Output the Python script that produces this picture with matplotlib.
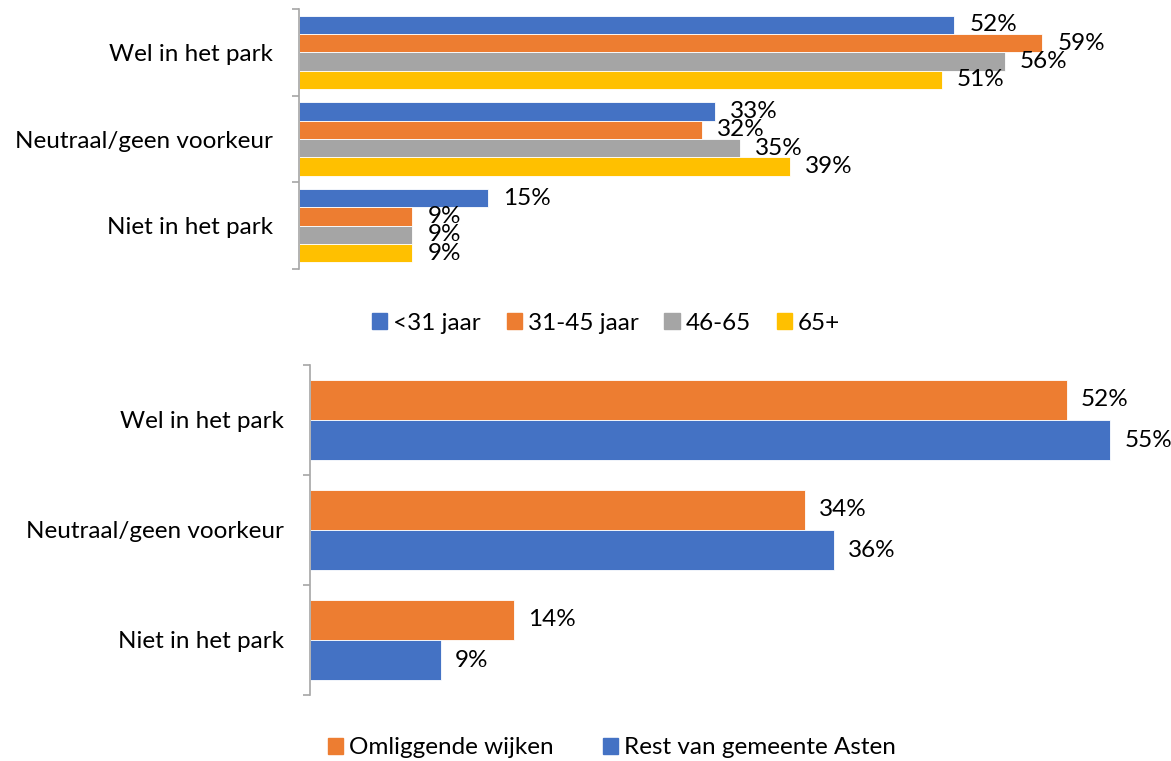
import numpy as np
import matplotlib
matplotlib.use('Agg')
import matplotlib.pyplot as plt
from matplotlib.patches import Patch

plt.rcParams['font.family'] = ['Lato', 'DejaVu Sans']

# categorieen (van boven naar beneden)
categories = ['Wel in het park', 'Neutraal/geen voorkeur', 'Niet in het park']

# bovenste grafiek: leeftijdsgroepen
age_groups = ['<31 jaar', '31-45 jaar', '46-65', '65+']
age_values = [
    [52, 33, 15],   # <31 jaar
    [59, 32, 9],    # 31-45 jaar
    [56, 35, 9],    # 46-65
    [51, 39, 9],    # 65+
]
age_colors = ['#4472C4', '#ED7D31', '#A5A5A5', '#FFC000']

# onderste grafiek: woonlocatie
area_groups = ['Omliggende wijken', 'Rest van gemeente Asten']
area_values = [
    [52, 34, 14],   # Omliggende wijken
    [55, 36, 9],    # Rest van gemeente Asten
]
area_colors = ['#ED7D31', '#4472C4']

FS = 17.5
W, H = 1171, 761
fig = plt.figure(figsize=(W / 100, H / 100), dpi=100)


def px_axes(x0, y0, x1, y1):
    # maak assen op pixelposities (y van boven)
    return fig.add_axes([x0 / W, 1 - y1 / H, (x1 - x0) / W, (y1 - y0) / H])


def style_axes(ax, labels):
    for s in ['top', 'right', 'bottom']:
        ax.spines[s].set_visible(False)
    ax.spines['left'].set_color('#A6A6A6')
    ax.spines['left'].set_linewidth(1.2)
    ax.set_xticks([])
    ax.set_yticks(range(len(labels)))
    ax.set_yticklabels(labels, fontsize=FS, color='#000000')
    ax.tick_params(axis='y', which='major', length=0, pad=19)
    ax.set_yticks([-0.5, 0.5, 1.5, 2.5], minor=True)
    ax.tick_params(axis='y', which='minor', length=5, color='#A6A6A6', width=1.2)
    ax.set_ylim(2.5, -0.5)


def grouped_bars(ax, values, colors, height, pad_px, px_per_unit):
    n = len(values)
    y = np.arange(len(categories))
    for i, (vals, col) in enumerate(zip(values, colors)):
        pos = y + (i - (n - 1) / 2) * height
        ax.barh(pos, vals, height=height, color=col, edgecolor='white', linewidth=0.6)
        for p, v in zip(pos, vals):
            ax.text(v + pad_px / px_per_unit, p, f'{v}%', va='center', ha='left',
                    fontsize=FS, color='#000000')


# bovenste grafiek
ax1 = px_axes(299, 9, W, 269)
top_scale = 12.6
ax1.set_xlim(0, (W - 299) / top_scale)
grouped_bars(ax1, age_values, age_colors, 0.211, 15, top_scale)
style_axes(ax1, categories)

handles1 = [Patch(color=c, label=l) for c, l in zip(age_colors, age_groups)]
fig.legend(handles=handles1, loc='center', bbox_to_anchor=(606 / W, 1 - 323 / H),
           ncol=4, frameon=False, fontsize=FS, handlelength=0.62, handleheight=0.62,
           handletextpad=0.25, columnspacing=1.07, borderpad=0)

# onderste grafiek
ax2 = px_axes(310, 365, W, 695)
bot_scale = 14.55
ax2.set_xlim(0, (W - 310) / bot_scale)
grouped_bars(ax2, area_values, area_colors, 0.364, 14, bot_scale)
style_axes(ax2, categories)

handles2 = [Patch(color=c, label=l) for c, l in zip(area_colors, area_groups)]
fig.legend(handles=handles2, loc='center', bbox_to_anchor=(612 / W, 1 - 748 / H),
           ncol=2, frameon=False, fontsize=FS, handlelength=0.62, handleheight=0.62,
           handletextpad=0.25, columnspacing=2.0, borderpad=0)

fig.savefig('out.png', dpi=100)
